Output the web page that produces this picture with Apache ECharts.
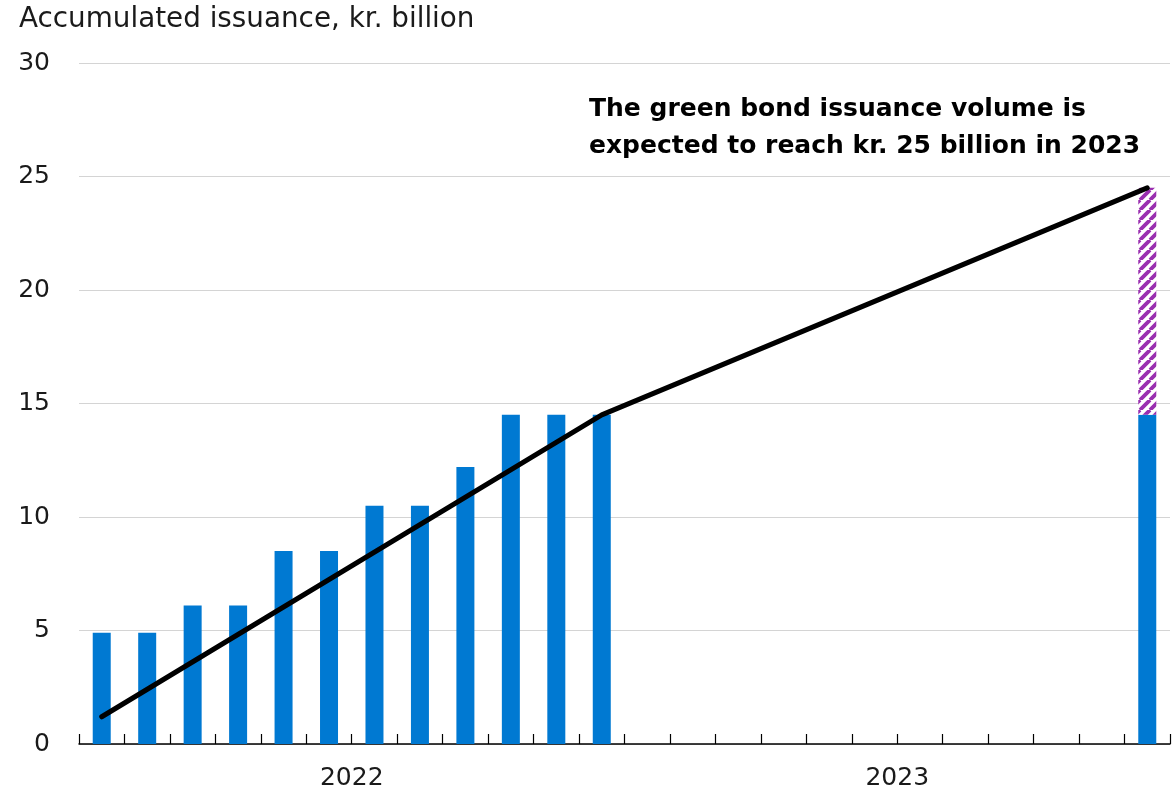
<!DOCTYPE html>
<html>
<head>
<meta charset="utf-8">
<script src="https://cdn.jsdelivr.net/npm/echarts@6/dist/echarts.min.js"></script>
<style>
  html, body { margin: 0; padding: 0; background: #fff; }
  #chart { width: 1173px; height: 795px; }
</style>
</head>
<body>
<div id="chart"></div>
<script>
// months Jan 2022 .. Dec 2023
const months = ['Jan 22', 'Feb 22', 'Mar 22', 'Apr 22', 'May 22', 'Jun 22', 'Jul 22', 'Aug 22', 'Sep 22', 'Oct 22', 'Nov 22', 'Dec 22',
  'Jan 23', 'Feb 23', 'Mar 23', 'Apr 23', 'May 23', 'Jun 23', 'Jul 23', 'Aug 23', 'Sep 23', 'Oct 23', 'Nov 23', 'Dec 23']
const years = ['2022', '2023']
const issued = [4.9, 4.9, 6.1, 6.1, 8.5, 8.5, 10.5, 10.5, 12.2, 14.5, 14.5, 14.5,
  null, null, null, null, null, null, null, null, null, null, null, 14.5]
const expected = [null, null, null, null, null, null, null, null, null, null, null, null,
  null, null, null, null, null, null, null, null, null, null, null, 10]
const trend = [1.2, null, null, null, null, null, null, null, null, null, null, 14.5,
  null, null, null, null, null, null, null, null, null, null, null, 24.5]

const font = '"DejaVu Sans", sans-serif'

const makeHatch = () => {
  const size = 10
  const c = document.createElement('canvas')
  c.width = size
  c.height = size
  const ctx = c.getContext('2d')
  ctx.fillStyle = '#ffffff'
  ctx.fillRect(0, 0, size, size)
  ctx.strokeStyle = '#9a2fb0'
  ctx.lineWidth = 3.8
  ctx.beginPath()
  for (const k of [-size, 0, size]) {
    ctx.moveTo(k, size)
    ctx.lineTo(k + size, 0)
  }
  ctx.stroke()
  return c
}

const chart = echarts.init(document.getElementById('chart'), null, { renderer: 'canvas' })
chart.setOption({
  animation: false,
  textStyle: { fontFamily: font },
  title: {
    text: 'Accumulated issuance, kr. billion',
    left: 14,
    top: 1,
    textStyle: { fontSize: 27.8, fontWeight: 'normal', color: '#1a1a1a', fontFamily: font }
  },
  grid: { left: 79, right: 3, top: 63, bottom: 51, containLabel: false },
  xAxis: [
    {
      type: 'category',
      data: months,
      boundaryGap: true,
      axisLine: { lineStyle: { color: '#000', width: 1.5 } },
      axisTick: { show: true, inside: true, interval: 0, length: 10, lineStyle: { color: '#000', width: 1.2 } },
      axisLabel: { show: false },
      splitLine: { show: false }
    },
    {
      type: 'category',
      data: years,
      position: 'bottom',
      boundaryGap: true,
      axisLine: { show: false },
      axisTick: { show: false },
      axisLabel: { fontSize: 25, color: '#1a1a1a', margin: 22, fontFamily: font },
      splitLine: { show: false }
    }
  ],
  yAxis: {
    type: 'value',
    min: 0,
    max: 30,
    interval: 5,
    axisLine: { show: false },
    axisTick: { show: false },
    axisLabel: { fontSize: 25, color: '#1a1a1a', margin: 29, fontFamily: font },
    splitLine: { lineStyle: { color: '#d4d4d4', width: 1.2 } }
  },
  series: [
    {
      name: 'Issued',
      type: 'bar',
      stack: 'total',
      data: issued,
      barWidth: 18,
      itemStyle: { color: '#0079d2' },
      z: 2
    },
    {
      name: 'Expected',
      type: 'bar',
      stack: 'total',
      data: expected,
      barWidth: 18,
      itemStyle: { color: { image: makeHatch(), repeat: 'repeat' } },
      z: 2
    },
    {
      name: 'Trend',
      type: 'line',
      data: trend,
      connectNulls: true,
      symbol: 'none',
      lineStyle: { color: '#000', width: 5, cap: 'round', join: 'round' },
      z: 5
    }
  ],
  graphic: [
    {
      type: 'text',
      left: 589,
      top: 91,
      style: {
        text: 'The green bond issuance volume is\nexpected to reach kr. 25 billion in 2023',
        font: 'bold 25px ' + font,
        fill: '#000',
        lineHeight: 37
      },
      z: 10
    }
  ]
})
</script>
</body>
</html>
